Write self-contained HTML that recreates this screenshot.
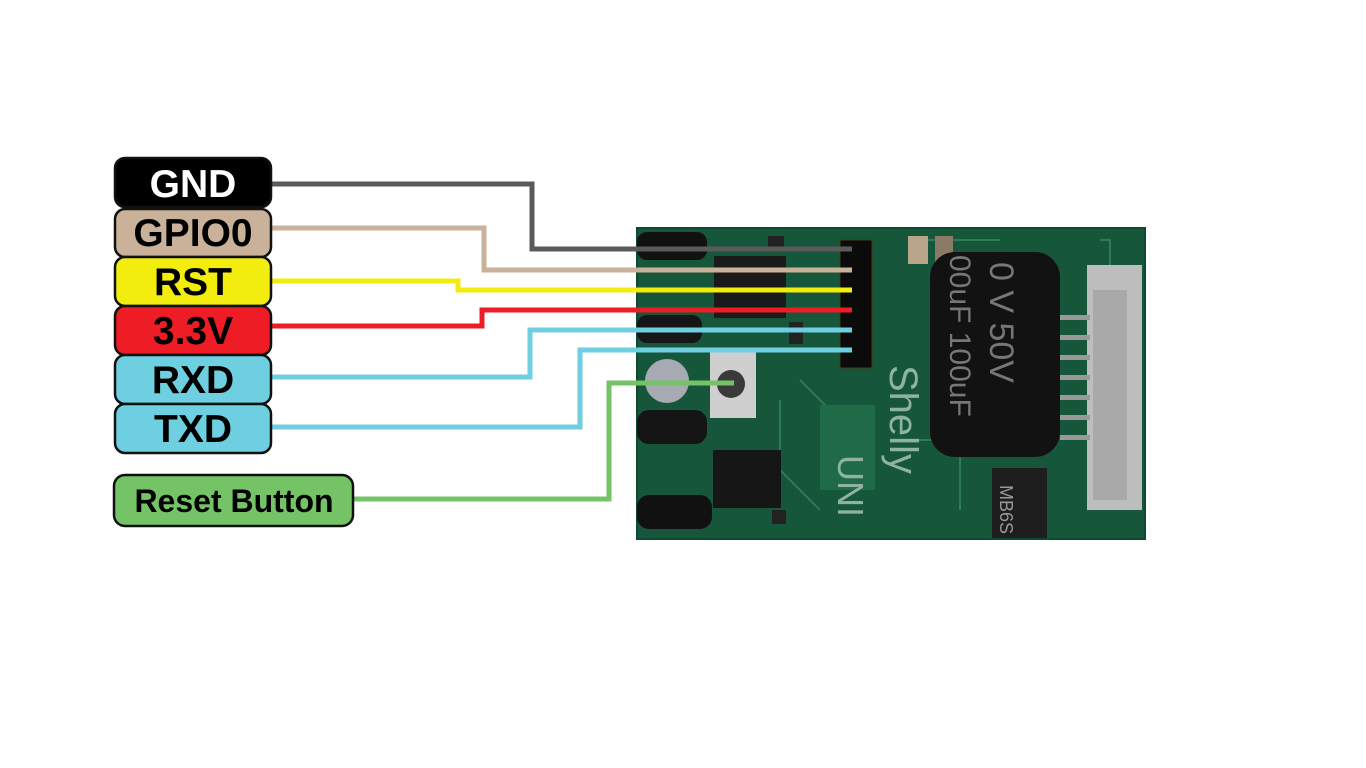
<!DOCTYPE html>
<html><head><meta charset="utf-8"><style>
html,body{margin:0;padding:0;background:#fff;width:1366px;height:768px;overflow:hidden}
svg{display:block}
text{font-family:"Liberation Sans",Arial,sans-serif}
.b{font-weight:bold}
</style></head><body>
<svg width="1366" height="768" viewBox="0 0 1366 768" xmlns="http://www.w3.org/2000/svg">
<!-- PCB -->
<rect x="637" y="228" width="508" height="311" fill="#16563b"/>
<rect x="637" y="228" width="508" height="311" fill="none" stroke="#0e4a30" stroke-width="2"/>
<g stroke="#2f7a58" stroke-width="2" fill="none">
<path d="M780 400 L780 470 L820 510"/><path d="M800 380 L840 420 L840 470"/>
<path d="M920 240 L1000 240"/><path d="M1100 240 L1110 240 L1110 270"/>
<path d="M890 440 L960 440 L960 510"/>
</g>
<rect x="637" y="232" width="70" height="28" rx="10" fill="#111"/>
<rect x="637" y="410" width="70" height="34" rx="12" fill="#151515"/>
<rect x="637" y="495" width="75" height="34" rx="12" fill="#111"/>
<rect x="637" y="315" width="65" height="28" rx="10" fill="#161616"/>
<rect x="714" y="256" width="72" height="62" fill="#1a1a1a"/>
<rect x="713" y="450" width="68" height="58" fill="#161616"/>
<rect x="768" y="236" width="16" height="14" fill="#222"/>
<rect x="772" y="510" width="14" height="14" fill="#222"/>
<rect x="710" y="350" width="46" height="68" fill="#cfcfcf"/>
<circle cx="731" cy="384" r="14" fill="#3a3a3a"/>
<circle cx="667" cy="381" r="22" fill="#a7aab3"/>
<rect x="908" y="236" width="20" height="28" fill="#b9a58a"/>
<rect x="935" y="236" width="18" height="28" fill="#8a7a66"/>
<rect x="789" y="322" width="14" height="22" fill="#222"/>
<rect x="820" y="405" width="55" height="85" fill="#1f6a47"/>
<rect x="930" y="252" width="130" height="205" rx="25" fill="#121212"/>
<text x="0" y="0" transform="translate(950,255) rotate(90)" font-size="30" fill="#777">00uF 100uF</text>
<text x="0" y="0" transform="translate(990,262) rotate(90)" font-size="34" fill="#777">0 V 50V</text>
<rect x="992" y="468" width="55" height="70" fill="#1e1e1e"/>
<text x="0" y="0" transform="translate(1000,485) rotate(90)" font-size="18" fill="#999">MB6S</text>
<rect x="1087" y="265" width="55" height="245" fill="#bdbdbd"/>
<rect x="1093" y="290" width="34" height="210" fill="#a9a9a9"/>
<g fill="#999"><rect x="1060" y="315" width="30" height="5"/><rect x="1060" y="335" width="30" height="5"/><rect x="1060" y="355" width="30" height="5"/><rect x="1060" y="375" width="30" height="5"/><rect x="1060" y="395" width="30" height="5"/><rect x="1060" y="415" width="30" height="5"/><rect x="1060" y="435" width="30" height="5"/></g>
<text x="0" y="0" transform="translate(890,365) rotate(90)" font-size="40" fill="#8fb3a2">Shelly</text>
<text x="0" y="0" transform="translate(838,455) rotate(90)" font-size="36" fill="#8fb3a2">UNI</text>
<rect x="840" y="240" width="32" height="128" fill="#0b0b0b" stroke="#4a3b1a" stroke-width="1"/>
<!-- wires -->
<g fill="none" stroke-width="5" stroke-linejoin="miter">
<path d="M271 184 H532 V249 H852" stroke="#5a5a5a"/>
<path d="M271 228 H484 V270 H852" stroke="#c9b299"/>
<path d="M271 281 H458 V290 H852" stroke="#f3ec0f"/>
<path d="M271 326 H482 V310 H852" stroke="#ee1c24"/>
<path d="M271 377 H530 V330 H852" stroke="#6dcfe0"/>
<path d="M271 427 H580 V350 H852" stroke="#6dcfe0"/>
<path d="M353 499 H609 V383 H734" stroke="#74c366"/>
</g>
<!-- labels -->
<g stroke="#111" stroke-width="2.5">
<rect x="115" y="158" width="156" height="49" rx="10" fill="#000"/>
<rect x="115" y="209" width="156" height="48" rx="10" fill="#c9b299"/>
<rect x="115" y="257" width="156" height="49" rx="10" fill="#f3ec0f"/>
<rect x="115" y="306" width="156" height="49" rx="10" fill="#ee1c24"/>
<rect x="115" y="355" width="156" height="49" rx="10" fill="#6dcfe0"/>
<rect x="115" y="404" width="156" height="49" rx="10" fill="#6dcfe0"/>
<rect x="114" y="475" width="239" height="51" rx="11" fill="#74c366"/>
</g>
<g font-size="39" text-anchor="middle" class="b">
<text x="193" y="197" fill="#fff">GND</text>
<text x="193" y="246" fill="#000">GPIO0</text>
<text x="193" y="295" fill="#000">RST</text>
<text x="193" y="344" fill="#000">3.3V</text>
<text x="193" y="393" fill="#000">RXD</text>
<text x="193" y="442" fill="#000">TXD</text>
<text x="234" y="512" fill="#000" font-size="32">Reset Button</text>
</g>
</svg>
</body></html>
